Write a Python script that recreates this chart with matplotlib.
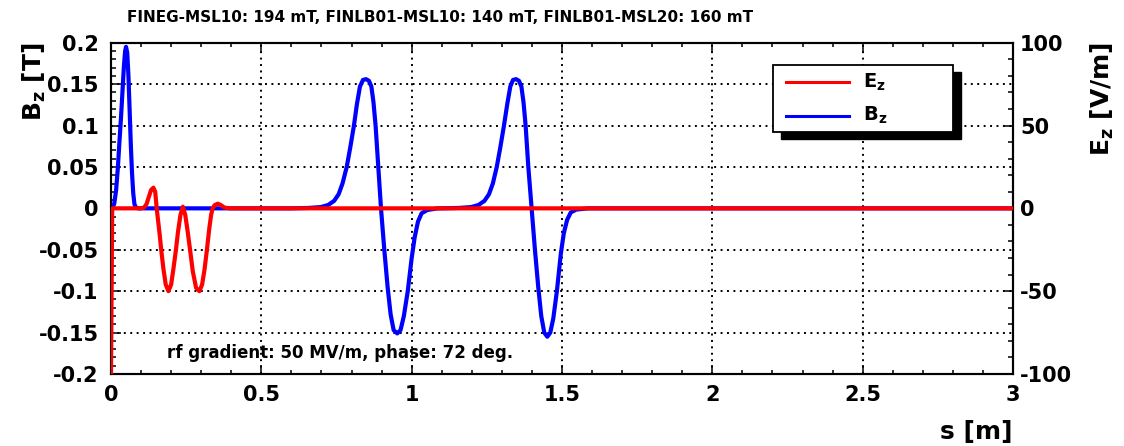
import matplotlib
matplotlib.use("Agg")
import matplotlib.pyplot as plt
from matplotlib.ticker import MultipleLocator, FixedLocator, FixedFormatter
from matplotlib.patches import Rectangle
from matplotlib.lines import Line2D

plt.rcParams["font.family"] = ["DejaVu Sans"]
plt.rcParams["font.weight"] = "bold"
plt.rcParams["mathtext.fontset"] = "dejavusans"
plt.rcParams["mathtext.default"] = "bf"

# ---- data -------------------------------------------------------------
# solenoid field B_z [T] along the beamline s [m]
s_b = [0.000, 0.006, 0.011, 0.017, 0.023, 0.028, 0.033, 0.038, 0.043, 0.047,
       0.050, 0.054, 0.058, 0.062, 0.066, 0.070, 0.074, 0.078, 0.083, 0.090,
       0.600, 0.657, 0.697, 0.722, 0.742, 0.757, 0.770, 0.784, 0.796, 0.808,
       0.818, 0.828, 0.838, 0.848, 0.858, 0.866, 0.873, 0.880, 0.889, 0.898,
       0.909, 0.920, 0.930, 0.940, 0.952, 0.963, 0.974, 0.987, 1.000, 1.010,
       1.021, 1.033, 1.052, 1.087, 1.097, 1.157, 1.197, 1.222, 1.242, 1.257,
       1.270, 1.283, 1.295, 1.307, 1.318, 1.328, 1.337, 1.347, 1.357, 1.365,
       1.372, 1.379, 1.388, 1.399, 1.410, 1.421, 1.431, 1.441, 1.451, 1.461,
       1.471, 1.483, 1.496, 1.506, 1.517, 1.529, 1.547, 1.587, 3.000]
b_z = [0.0, 0.001, 0.006, 0.022, 0.050, 0.080, 0.108, 0.140, 0.172, 0.190,
       0.195, 0.188, 0.160, 0.118, 0.076, 0.042, 0.018, 0.005, 0.001, 0.0,
       0.0, 0.0005, 0.0015, 0.004, 0.009, 0.017, 0.030, 0.050, 0.074, 0.100,
       0.126, 0.147, 0.155, 0.156, 0.154, 0.147, 0.128, 0.100, 0.050, 0.000,
       -0.050, -0.095, -0.128, -0.147, -0.151, -0.147, -0.130, -0.100, -0.060, -0.035,
       -0.016, -0.006, -0.002, 0.0, 0.0, 0.0005, 0.0015, 0.004, 0.009, 0.017,
       0.030, 0.050, 0.074, 0.100, 0.126, 0.147, 0.155, 0.156, 0.154, 0.147,
       0.128, 0.100, 0.050, 0.000, -0.050, -0.095, -0.130, -0.150, -0.155, -0.150,
       -0.133, -0.100, -0.055, -0.030, -0.014, -0.005, -0.0015, 0.0, 0.0]

# rf cavity field E_z [V/m] along s [m]
s_e = [0.000, 0.004, 0.100, 0.110, 0.118, 0.126, 0.133, 0.141, 0.147, 0.152,
       0.157, 0.162, 0.167, 0.174, 0.182, 0.191, 0.200, 0.208, 0.216, 0.223,
       0.231, 0.239, 0.247, 0.255, 0.263, 0.272, 0.283, 0.294, 0.303, 0.311,
       0.319, 0.327, 0.333, 0.338, 0.345, 0.355, 0.365, 0.377, 0.395, 3.000]
e_z = [-100.0, 0.0, 0.0, 0.5, 2.5, 7.0, 11.0, 12.5, 10.0, 0.0,
       -8.0, -16.0, -25.0, -36.0, -46.0, -50.0, -46.0, -36.0, -25.0, -14.0,
       -4.0, 1.0, -4.0, -14.0, -25.0, -38.0, -48.0, -50.0, -46.0, -37.0,
       -25.0, -12.0, -4.0, 0.0, 2.0, 2.8, 2.0, 0.5, 0.0, 0.0]

x_ticks = [0, 0.5, 1, 1.5, 2, 2.5, 3]
x_tick_labels = ["0", "0.5", "1", "1.5", "2", "2.5", "3"]
b_ticks = [-0.2, -0.15, -0.1, -0.05, 0, 0.05, 0.1, 0.15, 0.2]
b_tick_labels = ["-0.2", "-0.15", "-0.1", "-0.05", "0", "0.05", "0.1", "0.15", "0.2"]
e_ticks = [-100, -50, 0, 50, 100]
e_tick_labels = ["-100", "-50", "0", "50", "100"]

title_text = "FINEG-MSL10: 194 mT, FINLB01-MSL10: 140 mT, FINLB01-MSL20: 160 mT"
note_text = "rf gradient: 50 MV/m, phase: 72 deg."

RED = "#ff0000"
BLUE = "#0000ff"

# ---- figure -----------------------------------------------------------
W, H = 1124, 446
fig = plt.figure(figsize=(W / 100, H / 100), dpi=100)
fig.patch.set_facecolor("white")


def fx(px):
    return px / W


def fy(py):
    return 1 - py / H


ax = fig.add_axes([fx(111), fy(374), fx(1013) - fx(111), fy(42.7) - fy(374)])
ax2 = ax.twinx()

ax.plot(s_b, b_z, color=BLUE, lw=3.0, solid_joinstyle="round", zorder=3)
ax2.plot(s_e, e_z, color=RED, lw=3.0, solid_joinstyle="round", zorder=3)

ax.set_xlim(0, 3)
ax.set_ylim(-0.2, 0.2)
ax2.set_ylim(-100, 100)

ax.xaxis.set_major_locator(FixedLocator(x_ticks))
ax.xaxis.set_major_formatter(FixedFormatter(x_tick_labels))
ax.xaxis.set_minor_locator(MultipleLocator(0.1))
ax.yaxis.set_major_locator(FixedLocator(b_ticks))
ax.yaxis.set_major_formatter(FixedFormatter(b_tick_labels))
ax.yaxis.set_minor_locator(MultipleLocator(0.01))
ax2.yaxis.set_major_locator(FixedLocator(e_ticks))
ax2.yaxis.set_major_formatter(FixedFormatter(e_tick_labels))
ax2.yaxis.set_minor_locator(MultipleLocator(10))

ax.grid(True, which="major", color="black", lw=1.4, linestyle=(0, (1, 2.3)))

ax.tick_params(axis="x", which="both", direction="in", top=True, bottom=True,
               width=1.1, labelsize=15, pad=8)
ax.tick_params(axis="x", which="major", length=6.5)
ax.tick_params(axis="x", which="minor", length=3.2)
ax.tick_params(axis="y", which="both", direction="in", left=True, right=False,
               width=1.1, labelsize=15, pad=9)
ax.tick_params(axis="y", which="major", length=7.5)
ax.tick_params(axis="y", which="minor", length=3.5)
ax2.tick_params(axis="y", which="both", direction="in", right=True, left=False,
                width=1.1, labelsize=15, pad=5)
ax2.tick_params(axis="y", which="major", length=7.5)
ax2.tick_params(axis="y", which="minor", length=3.5)

for a in (ax, ax2):
    for sp in a.spines.values():
        sp.set_linewidth(1.5)
        sp.set_color("black")
    for lab in a.get_xticklabels() + a.get_yticklabels():
        lab.set_fontweight("bold")

# axis titles
fig.text(fx(1013), fy(432), "s [m]", ha="right", va="center", fontsize=18,
         fontweight="bold")
fig.text(fx(34), fy(42), r"B$_z$ [T]", ha="center", va="top", rotation=90,
         fontsize=18, fontweight="bold")
fig.text(fx(1102), fy(42), r"E$_z$ [V/m]", ha="center", va="top", rotation=90,
         fontsize=18, fontweight="bold")

# header and annotation
fig.text(fx(127), fy(17), title_text, ha="left", va="center", fontsize=11,
         fontweight="bold")
fig.text(fx(167), fy(358), note_text, ha="left", va="baseline", fontsize=12,
         fontweight="bold")

# legend box with drop shadow
bx0, bx1, by0, by1 = 772.7, 953.3, 65.0, 131.7
fig.patches.append(Rectangle((fx(bx0 + 8), fy(by1 + 7)), fx(bx1) - fx(bx0),
                             fy(by0) - fy(by1), transform=fig.transFigure,
                             facecolor="black", edgecolor="black", zorder=5))
fig.patches.append(Rectangle((fx(bx0), fy(by1)), fx(bx1) - fx(bx0),
                             fy(by0) - fy(by1), transform=fig.transFigure,
                             facecolor="white", edgecolor="black", lw=1.3, zorder=6))
for color, label, ly, base in ((RED, r"E$_z$", 82.3, 87.3),
                               (BLUE, r"B$_z$", 115.7, 120.7)):
    fig.lines.append(Line2D([fx(786), fx(849)], [fy(ly), fy(ly)], color=color,
                            lw=2.2, transform=fig.transFigure, zorder=7))
    fig.text(fx(862.7), fy(base), label, ha="left", va="baseline", fontsize=14,
             fontweight="bold", zorder=7)

fig.savefig("out.png", dpi=100, facecolor="white")
